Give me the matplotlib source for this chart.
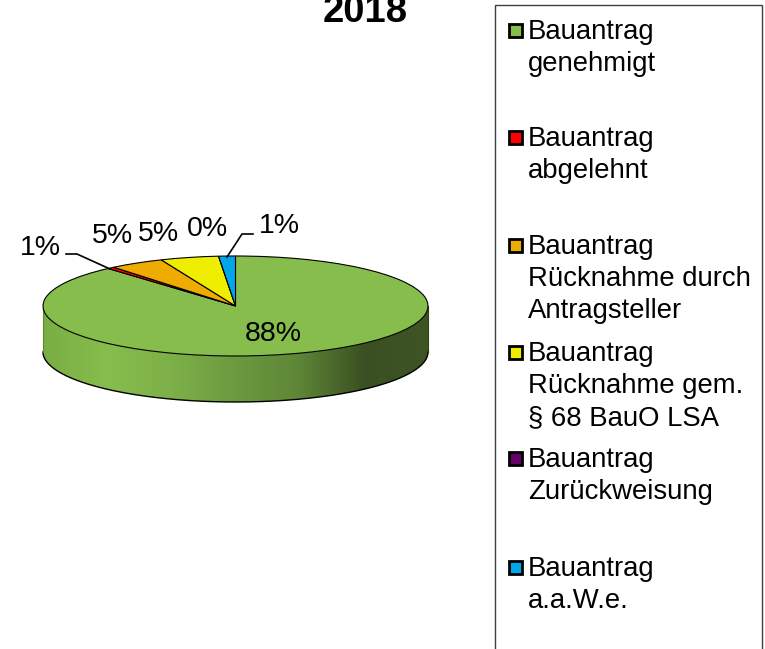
import numpy as np
import matplotlib
matplotlib.use("Agg")
import matplotlib.pyplot as plt
from matplotlib.colors import LinearSegmentedColormap
from matplotlib.patches import Polygon, Rectangle

plt.rcParams['font.family'] = ['Liberation Sans', 'DejaVu Sans']

title = "2018"
categories = [
    "Bauantrag\ngenehmigt",
    "Bauantrag\nabgelehnt",
    "Bauantrag\nRücknahme durch\nAntragsteller",
    "Bauantrag\nRücknahme gem.\n§ 68 BauO LSA",
    "Bauantrag\nZurückweisung",
    "Bauantrag\na.a.W.e.",
]
# Slice shares, printed labels are rounded
values = [88.5, 0.6, 4.6, 4.9, 0.0, 1.4]
value_labels = ["88%", "1%", "5%", "5%", "0%", "1%"]
colors = ["#86BD4C", "#FF0000", "#EFAC00", "#F0EE00", "#660066", "#00A6EA"]
side_stops = ["#7AAE45", "#86BD4C", "#7DB048", "#6C9A3F", "#5E8637", "#3B5022", "#3E5424"]

W, H = 765, 649
CX, CY, RX, RY, DEPTH = 235.5, 306, 192.5, 50, 46

fig = plt.figure(figsize=(W / 100, H / 100), dpi=100, facecolor="white")

# Pie axes: one unit is the radius, so the circle gets squashed into an ellipse
ax = fig.add_axes([0, 0, 1, 1])
ax.pie(values, colors=colors, startangle=90, counterclock=False, radius=1,
       wedgeprops={"edgecolor": "black", "linewidth": 0.8})
ax.set_aspect("auto")

# Side wall of the disc with the left to right shading
d = DEPTH / RY
t = np.linspace(np.pi, 2 * np.pi, 200)
rim_x, rim_y = np.cos(t), np.sin(t)
outline = np.vstack([np.column_stack([rim_x, rim_y - d]),
                     np.column_stack([rim_x[::-1], rim_y[::-1]])])
side = Polygon(outline, closed=True, facecolor="none", edgecolor="none", zorder=0.5)
ax.add_patch(side)
cmap = LinearSegmentedColormap.from_list("side", side_stops)
grad = ax.imshow(np.linspace(0, 1, 256)[None, :], cmap=cmap, aspect="auto",
                 extent=[-1, 1, -1 - d, 0], zorder=0.5)
grad.set_clip_path(side)
ax.set_xlim(-CX / RX, (W - CX) / RX)
ax.set_ylim((CY - H) / RY, CY / RY)
ax.axis("off")
ax.plot(rim_x, rim_y - d, color="black", lw=1.0, zorder=0.6)
ax.plot([-1, -1], [0, -d], color="#5E8637", lw=0.8, zorder=0.6)
ax.plot([1, 1], [0, -d], color="#2F401B", lw=0.8, zorder=0.6)

# Overlay in pixel coordinates for labels and legend
ov = fig.add_axes([0, 0, 1, 1], facecolor="none")
ov.set_xlim(0, W)
ov.set_ylim(H, 0)
ov.axis("off")

# The reference cuts the title at the top edge as well
ov.text(365, 22, title, fontsize=27.5, fontweight="bold", ha="center", va="baseline", clip_on=False)

label_pos = [(40, 248), (112.5, 236), (158.5, 234), (207, 229), (279, 226)]
ov.text(273.5, 334, value_labels[0], fontsize=20.5, ha="center", va="center")
for lab, (x, y) in zip(value_labels[1:], label_pos):
    ov.text(x, y, lab, fontsize=20.5, ha="center", va="center")

ov.plot([110, 77, 66], [269, 254, 254], color="black", lw=1.2)
ov.plot([227, 242, 253], [257, 234, 234], color="black", lw=1.2)

ov.add_patch(Rectangle((495, 5), 267, 660, facecolor="white", edgecolor="#404040", lw=1.0))
entry_y = [30, 137, 245, 352, 458, 567]
for cat, col, y in zip(categories, colors, entry_y):
    ov.add_patch(Rectangle((509, y - 6), 13, 13, facecolor=col, edgecolor="black", lw=2.0))
    for i, line in enumerate(cat.split("\n")):
        ov.text(528, y + 2 + i * 32, line, fontsize=19.8, ha="left", va="center")

fig.savefig("out.png", dpi=100)
